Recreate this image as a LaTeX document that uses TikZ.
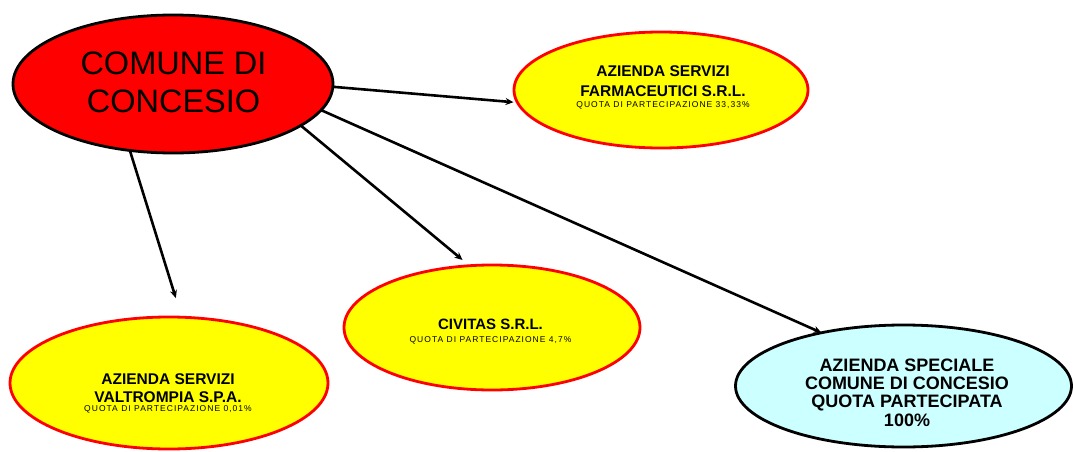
\documentclass[tikz,border=0pt]{standalone}
\usepackage{fontspec}
\setmainfont{Liberation Sans}
\usetikzlibrary{shapes.geometric,arrows.meta}
\definecolor{ored}{HTML}{FF0000}
\definecolor{oyel}{HTML}{FFFF00}
\definecolor{ocyan}{HTML}{CCFFFF}
\newcommand\quotatext[1]{{\fontsize{8.5}{10}\mdseries\selectfont\addfontfeatures{LetterSpace=12}#1}}
\begin{document}
\begin{tikzpicture}[x=1pt,y=-1pt,
  oval/.style={ellipse,inner sep=0pt,outer sep=0pt,line width=2.8pt},
  company/.style={oval,draw=ored,fill=oyel},
  link/.style={line width=2.6pt,-{Stealth[length=8pt,width=7pt]}},
  lbl/.style={align=center,inner sep=0pt,text=black},
]
\useasboundingbox (0,0) rectangle (1073,452);
% ellipses
\node[oval,draw=black,fill=ored,minimum width=320pt,minimum height=138pt] (comune) at (173,84) {};
\node[company,minimum width=294pt,minimum height=116pt] (farm) at (661,90) {};
\node[company,minimum width=296pt,minimum height=125pt] (civ) at (492,327.5) {};
\node[company,minimum width=318pt,minimum height=132pt] (valt) at (169,383) {};
\node[oval,draw=black,fill=ocyan,minimum width=336pt,minimum height=122pt] (spec) at (903.5,386) {};
% texts
\node[lbl,font=\fontsize{32.5}{38}\selectfont] (comunetxt) at (173.5,82.5) {COMUNE DI\\CONCESIO};
\node[lbl,font=\fontsize{15.5}{20}\bfseries\selectfont] (farmtxt) at (663,87) {AZIENDA SERVIZI\\FARMACEUTICI S.R.L.\\[-9pt]\quotatext{QUOTA DI PARTECIPAZIONE 33,33\%}};
\node[lbl,font=\fontsize{15}{20}\bfseries\selectfont] (civtxt) at (490.5,332) {CIVITAS S.R.L.\\[-7pt]\quotatext{QUOTA DI PARTECIPAZIONE 4,7\%}};
\node[lbl,font=\fontsize{15.5}{17.5}\bfseries\selectfont] (valttxt) at (168,393.5) {AZIENDA SERVIZI\\VALTROMPIA S.P.A.\\[-8.5pt]\quotatext{QUOTA DI PARTECIPAZIONE 0,01\%}};
\node[lbl,font=\fontsize{18}{18.3}\bfseries\selectfont] (spectxt) at (907,392.5) {AZIENDA SPECIALE\\COMUNE DI CONCESIO\\QUOTA PARTECIPATA\\100\%};
% connectors
\draw[link,shorten >=4pt] (comune.-1) -- (farm.185);
\draw[link,shorten >=20pt] (comune.237) -- (valt.79);
\draw[link,shorten >=9pt] (comune.-18) -- (civ.110);
\draw[link] (comune.-10) -- (spec.147);
\end{tikzpicture}
\end{document}
